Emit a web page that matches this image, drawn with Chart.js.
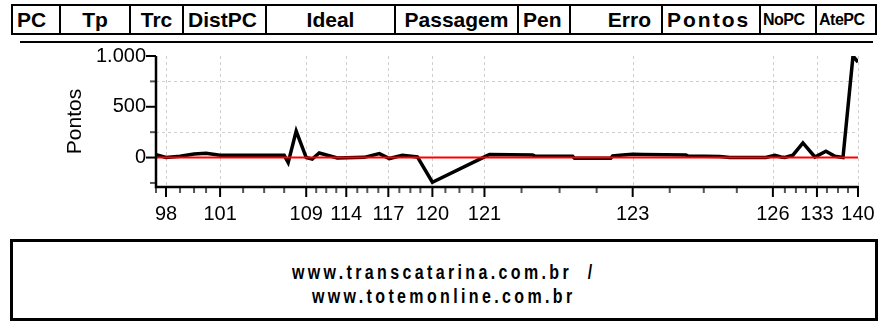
<!DOCTYPE html>
<html lang="pt-BR">
<head>
<meta charset="utf-8">
<title>Pontos por PC</title>
<script src="https://cdn.jsdelivr.net/npm/chart.js@4.4.1/dist/chart.umd.min.js"></script>
<style>
  html, body { margin: 0; padding: 0; background: #fff; }
  body { width: 894px; height: 325px; position: relative; overflow: hidden;
         font-family: "Liberation Sans", Arial, sans-serif; color: #000; }
  #cab { position: absolute; left: 11px; top: 4px; width: 866px; height: 31px;
         box-sizing: border-box; border: 2px solid #000; display: flex; }
  #cab div { box-sizing: border-box; border-right: 2px solid #000; height: 27px;
             line-height: 28px; font-weight: bold; font-size: 21px; white-space: nowrap;
             overflow: hidden; padding: 0 4px; }
  #cab div:last-child { border-right: none; }
  #cab .c { text-align: center; }
  #cab .d { text-align: right; padding-right: 10px; }
  #cab .p { font-size: 16px; padding: 0 2px; letter-spacing: -0.5px; }
  #topo { position: absolute; left: 20px; top: 41px; width: 853px; height: 2px; background: #000; }
  #wrap { position: absolute; left: 0; top: 42px; width: 894px; height: 195px; }
  #rodape { position: absolute; left: 10px; top: 239px; width: 868px; height: 82px;
            box-sizing: border-box; border: 3px solid #000; text-align: center;
            font-weight: bold; font-size: 20px; line-height: 24px; padding-top: 18px; }
  #rodape span { display: inline-block; letter-spacing: 4.2px; transform: scaleX(0.8); }
</style>
</head>
<body>
<div id="cab">
  <div style="width:48px">PC</div>
  <div class="c" style="width:70px">Tp</div>
  <div class="c" style="width:53px">Trc</div>
  <div style="width:83px">DistPC</div>
  <div class="c" style="width:129px">Ideal</div>
  <div class="c" style="width:123px">Passagem</div>
  <div style="width:52px">Pen</div>
  <div class="d" style="width:92px">Erro</div>
  <div style="width:98px; letter-spacing:2px">Pontos</div>
  <div class="p" style="width:56px">NoPC</div>
  <div class="p" style="width:58px">AtePC</div>
</div>
<div id="topo"></div>
<div id="wrap"><canvas id="grafico"></canvas></div>
<div id="rodape"><span>www.transcatarina.com.br&nbsp; /</span><br><span>www.totemonline.com.br</span></div>

<script>
// posição ao longo do percurso e pontos acumulados em cada passagem
const tempo  = [0, 10, 24, 38, 50, 64, 87, 108, 128, 132, 140, 150, 156, 163, 181, 208,
                223, 233, 246, 261, 276, 328, 333, 376, 378, 416, 418, 454, 456, 466, 476,
                486, 529, 531, 563, 573, 609, 618, 624, 628, 636, 646, 658, 669, 678, 686,
                696, 701];
const pontos = [27, 0, 13, 35, 42, 22, 22, 22, 22, -50, 260, 0, -14, 45, -4, 2,
                39, -10, 23, 6, -243, 6, 30, 26, 16, 13, -8, -8, 16, 26, 32,
                30, 26, 16, 10, 0, 0, 23, 6, 0, 23, 144, 6, 62, 13, 0,
                1000, 940];

// marcas do eixo X (uma por PC registrado) e rótulos visíveis
const marcasX = [0, 10, 24, 38, 50, 64, 87, 108, 128, 150, 160, 170, 180, 190, 201, 211,
                 222, 232, 243, 254, 264, 276, 289, 303, 316, 328, 365, 403, 440, 476,
                 513, 547, 580, 616, 628, 639, 649, 660, 670, 681, 691, 701];
const rotulosPC = ["", "98", "", "", "", "101", "", "", "", "109", "", "", "", "114", "", "",
                   "", "117", "", "", "", "120", "", "", "", "121", "", "", "", "123",
                   "", "", "", "126", "", "", "", "133", "", "", "", "140"];

const marcasY = [0, 500, 1000];
const marcasYMenores = [-250, 250, 750];
const gradeY = [250, 750];
const linhaZero = [0, 0];
const yMin = -290, yMax = 1000;

function fmtMilhar(v) {
  return String(v).replace(/\B(?=(\d{3})+(?!\d))/g, ".");
}

// eixos, marcas e grade tracejada desenhados à mão
const eixosPlugin = {
  id: "eixos",
  beforeDatasetsDraw(chart) {
    const { ctx, chartArea: a, scales: { x, y } } = chart;
    ctx.save();
    ctx.strokeStyle = "#cfcfcf";
    ctx.lineWidth = 1;
    ctx.setLineDash([3, 3]);
    marcasX.forEach((v, i) => {
      if (!rotulosPC[i]) return;
      const px = Math.round(x.getPixelForValue(v)) + 0.5;
      ctx.beginPath(); ctx.moveTo(px, a.top); ctx.lineTo(px, a.bottom); ctx.stroke();
    });
    gradeY.forEach(v => {
      const py = Math.round(y.getPixelForValue(v)) + 0.5;
      ctx.beginPath(); ctx.moveTo(a.left, py); ctx.lineTo(a.right, py); ctx.stroke();
    });
    ctx.restore();
  },
  afterDatasetsDraw(chart) {
    const { ctx, chartArea: a, scales: { x, y } } = chart;
    ctx.save();
    ctx.lineWidth = 2;
    // marcas do eixo Y
    marcasYMenores.forEach(v => {
      const py = y.getPixelForValue(v);
      ctx.strokeStyle = "#555";
      ctx.beginPath(); ctx.moveTo(a.left - 6, py); ctx.lineTo(a.left, py); ctx.stroke();
    });
    marcasY.forEach(v => {
      const py = y.getPixelForValue(v);
      ctx.strokeStyle = "#000";
      ctx.beginPath(); ctx.moveTo(a.left - 10, py); ctx.lineTo(a.left, py); ctx.stroke();
    });
    // marcas do eixo X
    marcasX.forEach((v, i) => {
      const px = x.getPixelForValue(v);
      const len = rotulosPC[i] ? 10 : 6;
      ctx.strokeStyle = rotulosPC[i] ? "#000" : "#555";
      ctx.beginPath(); ctx.moveTo(px, a.bottom); ctx.lineTo(px, a.bottom + len); ctx.stroke();
    });
    // linhas dos eixos
    ctx.strokeStyle = "#000";
    ctx.lineWidth = 2.5;
    ctx.beginPath();
    ctx.moveTo(a.left, a.top);
    ctx.lineTo(a.left, a.bottom);
    ctx.lineTo(a.right + 1, a.bottom);
    ctx.stroke();
    ctx.restore();
  }
};

const fonteEixo = { family: "'Liberation Sans', Arial, sans-serif", size: 20 };

new Chart(document.getElementById("grafico"), {
  type: "line",
  data: {
    datasets: [
      {
        label: "zero",
        data: linhaZero.map((v, i) => ({ x: i === 0 ? marcasX[0] : marcasX[marcasX.length - 1], y: v })),
        borderColor: "#ff0000",
        borderWidth: 2,
        pointRadius: 0,
        order: 0,
      },
      {
        label: "Pontos",
        data: tempo.map((t, i) => ({ x: t, y: pontos[i] })),
        borderColor: "#000",
        borderWidth: 3.5,
        pointRadius: 0,
        tension: 0,
        borderJoinStyle: "miter",
        order: 1,
      },
    ],
  },
  options: {
    responsive: true,
    maintainAspectRatio: false,
    animation: false,
    layout: { padding: { left: 63, right: 36, top: 2, bottom: 0 } },
    plugins: { legend: { display: false }, tooltip: { enabled: false } },
    scales: {
      x: {
        type: "linear",
        min: marcasX[0],
        max: marcasX[marcasX.length - 1],
        afterBuildTicks: s => { s.ticks = marcasX.map(v => ({ value: v })); },
        afterFit: s => { s.height = 50; },
        grid: { display: false },
        border: { display: false },
        ticks: {
          autoSkip: false,
          maxRotation: 0,
          padding: 7,
          color: "#000",
          font: fonteEixo,
          callback: (v, i) => rotulosPC[i],
        },
      },
      y: {
        min: yMin,
        max: yMax,
        afterBuildTicks: s => { s.ticks = marcasY.map(v => ({ value: v })); },
        afterFit: s => { s.width = 93; },
        grid: { display: false },
        border: { display: false },
        title: { display: true, text: "Pontos", color: "#000",
                 font: { family: fonteEixo.family, size: 21 }, padding: 0 },
        ticks: {
          padding: 2,
          color: "#000",
          font: fonteEixo,
          callback: v => fmtMilhar(v),
        },
      },
    },
  },
  plugins: [eixosPlugin],
});
</script>
</body>
</html>
